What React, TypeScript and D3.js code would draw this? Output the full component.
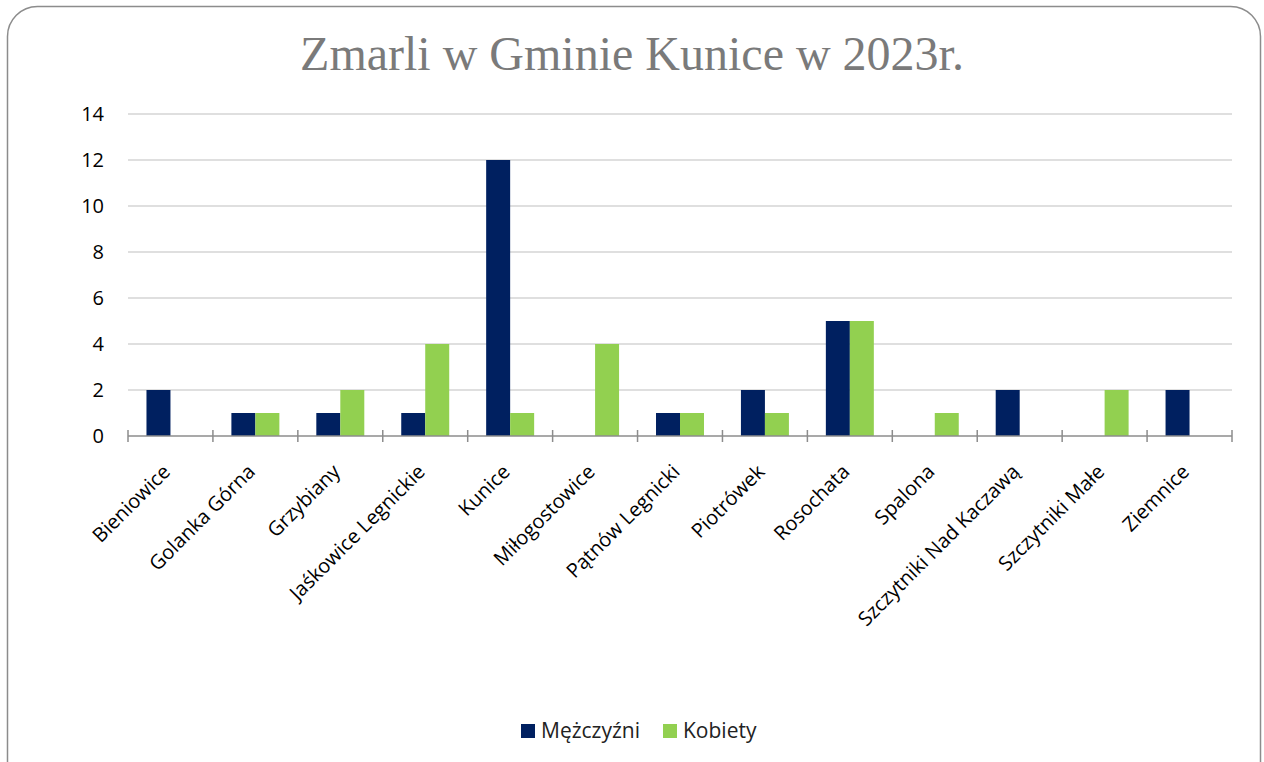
import React, { useEffect, useRef } from 'react';
import * as d3 from 'd3';

const categories = [
  'Bieniowice', 'Golanka Górna', 'Grzybiany', 'Jaśkowice Legnickie', 'Kunice',
  'Miłogostowice', 'Pątnów Legnicki', 'Piotrówek', 'Rosochata', 'Spalona',
  'Szczytniki Nad Kaczawą', 'Szczytniki Małe', 'Ziemnice',
];
const men = [2, 1, 1, 1, 12, 0, 1, 2, 5, 0, 2, 0, 2];
const women = [0, 1, 2, 4, 1, 4, 1, 1, 5, 1, 0, 2, 0];
const yTicks = [0, 2, 4, 6, 8, 10, 12, 14];
const seriesNames = ['Mężczyźni', 'Kobiety'];
const colors = ['#002060', '#92D050'];

const App = () => {
  const svgRef = useRef<SVGSVGElement>(null);

  useEffect(() => {
    const svg = d3.select(svgRef.current);
    svg.selectAll('*').remove();

    const width = 1264;
    const height = 762;
    const margin = { top: 114, right: 32, bottom: 326, left: 128 };
    const chartWidth = width - margin.left - margin.right;
    const chartHeight = height - margin.top - margin.bottom;
    const font = "'Open Sans', sans-serif";

    // frame
    svg.append('rect')
      .attr('x', 7.5).attr('y', 6.5)
      .attr('width', 1253).attr('height', 800)
      .attr('rx', 30).attr('ry', 30)
      .style('fill', '#fff')
      .style('stroke', '#8c8c8c')
      .style('stroke-width', 1.5);

    svg.append('text')
      .attr('x', 632)
      .attr('y', 70)
      .attr('text-anchor', 'middle')
      .style('font-family', "'Liberation Serif', 'Times New Roman', serif")
      .style('font-size', '48px')
      .style('fill', '#7a7a7a')
      .text('Zmarli w Gminie Kunice w 2023r.');

    const chart = svg.append('g')
      .attr('transform', `translate(${margin.left},${margin.top})`);

    const x = d3.scaleBand().domain(categories).range([0, chartWidth]).paddingInner(0).paddingOuter(0);
    const x1 = d3.scaleBand().domain(seriesNames).range([0, x.bandwidth()]).paddingOuter(0.77).paddingInner(0);
    const y = d3.scaleLinear().domain([0, 14]).range([chartHeight, 0]);

    // gridlines
    chart.selectAll('.grid')
      .data(yTicks.filter(d => d > 0))
      .enter()
      .append('line')
      .attr('x1', 0).attr('x2', chartWidth)
      .attr('y1', d => y(d)).attr('y2', d => y(d))
      .style('stroke', '#c0c0c0')
      .style('stroke-width', 1.2);

    const data = categories.map((c, i) => ({ c, vals: [men[i], women[i]] }));

    const groups = chart.selectAll('.grp')
      .data(data)
      .enter()
      .append('g')
      .attr('transform', d => `translate(${x(d.c)},0)`);

    groups.selectAll('rect')
      .data(d => d.vals.map((v, k) => ({ v, k })))
      .enter()
      .append('rect')
      .attr('x', d => x1(seriesNames[d.k]) as number)
      .attr('width', x1.bandwidth())
      .attr('y', d => y(d.v))
      .attr('height', d => chartHeight - y(d.v))
      .style('fill', d => colors[d.k]);

    // x axis line and ticks
    chart.append('line')
      .attr('x1', 0).attr('x2', chartWidth)
      .attr('y1', chartHeight).attr('y2', chartHeight)
      .style('stroke', '#8c8c8c')
      .style('stroke-width', 1.5);

    const tickPos = categories.map(c => x(c) as number).concat([chartWidth]);
    chart.selectAll('.tick')
      .data(tickPos)
      .enter()
      .append('line')
      .attr('x1', d => d).attr('x2', d => d)
      .attr('y1', chartHeight - 6).attr('y2', chartHeight + 6)
      .style('stroke', '#8c8c8c')
      .style('stroke-width', 1.5);

    // y labels
    chart.selectAll('.ylab')
      .data(yTicks)
      .enter()
      .append('text')
      .attr('x', -24)
      .attr('y', d => y(d))
      .attr('dy', '0.35em')
      .attr('text-anchor', 'end')
      .style('font-family', font)
      .style('font-size', '20px')
      .style('fill', '#000')
      .text(d => d);

    // x labels
    chart.selectAll('.xlab')
      .data(categories)
      .enter()
      .append('text')
      .attr('transform', d => `translate(${(x(d) as number) + x.bandwidth() / 2 + 1},${chartHeight + 37}) rotate(-45)`)
      .attr('text-anchor', 'end')
      .style('font-family', font)
      .style('font-size', '20px')
      .style('fill', '#000')
      .text(d => d);

    // legend
    const legend = svg.append('g').attr('transform', 'translate(521,724)');
    const items = [
      { name: seriesNames[0], color: colors[0], x: 0 },
      { name: seriesNames[1], color: colors[1], x: 142 },
    ];
    items.forEach(it => {
      legend.append('rect')
        .attr('x', it.x).attr('y', 0)
        .attr('width', 14).attr('height', 14)
        .style('fill', it.color);
      legend.append('text')
        .attr('x', it.x + 20).attr('y', 7)
        .attr('dy', '0.35em')
        .style('font-family', font)
        .style('font-size', '21px')
        .style('fill', '#222')
        .text(it.name);
    });
  }, []);

  return <svg ref={svgRef} width={1264} height={762} style={{ position: 'absolute', left: 0, top: 0 }} />;
};

export default App;
